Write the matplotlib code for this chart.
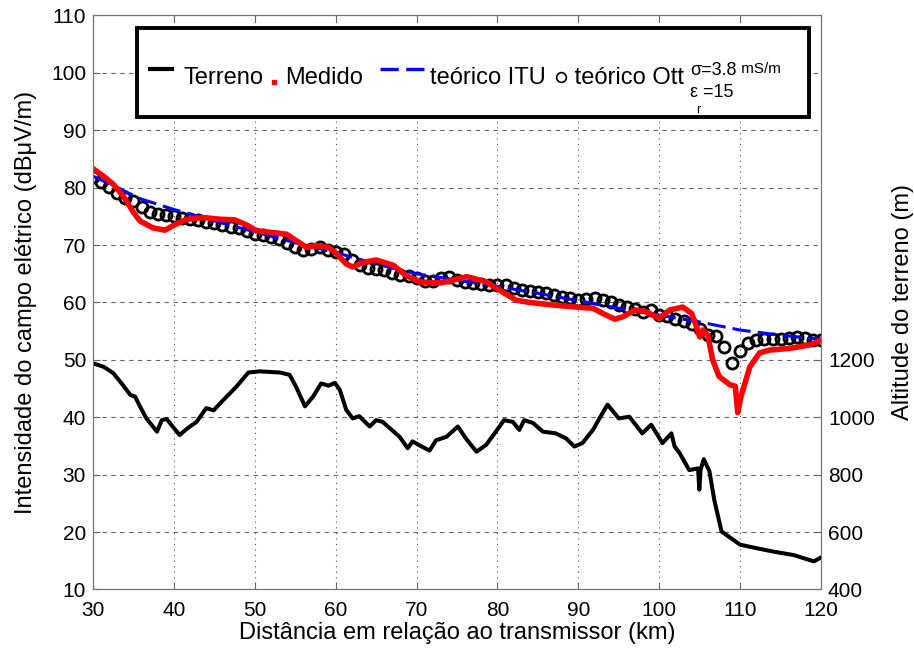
import matplotlib
matplotlib.use('Agg')
import matplotlib.pyplot as plt
from matplotlib.lines import Line2D
from matplotlib.legend_handler import HandlerBase
from matplotlib.patches import Rectangle

plt.rcParams['font.family'] = ['Liberation Sans', 'DejaVu Sans']

# ---------------- data ----------------
terrain_km = [30.0, 31.3, 32.5, 33.7, 34.6, 35.2, 35.8, 36.6, 37.9, 38.5, 39.1, 40.7, 41.6, 42.8,
              44.0, 44.9, 46.1, 47.7, 49.2, 50.6, 53.1, 54.3, 55.1, 56.2, 57.2, 58.2, 59.1, 59.9,
              60.5, 61.3, 62.1, 62.9, 64.2, 65.0, 65.8, 67.9, 68.9, 69.5, 70.5, 71.6, 72.4, 73.7,
              75.1, 76.1, 77.4, 78.6, 79.8, 80.8, 81.9, 82.7, 83.3, 84.4, 85.6, 87.2, 88.5, 89.5,
              90.5, 91.8, 92.6, 93.6, 95.0, 96.3, 97.9, 99.0, 100.4, 101.5, 101.9, 102.5, 103.7,
              104.8, 104.95, 105.1, 105.5, 106.2, 106.8, 107.7, 108.3, 110.0, 112.0, 114.1, 116.6,
              119.1, 119.9]
terrain_m = [1188, 1176, 1154, 1112, 1078, 1072, 1038, 996, 950, 990, 994, 938, 960, 984,
             1032, 1024, 1060, 1106, 1156, 1160, 1156, 1148, 1106, 1038, 1072, 1118, 1110, 1120,
             1096, 1026, 996, 1004, 968, 990, 984, 932, 892, 916, 900, 884, 920, 932,
             968, 926, 880, 904, 950, 990, 984, 956, 990, 980, 950, 944, 926, 898,
             910, 956, 996, 1044, 996, 1002, 944, 974, 910, 944, 898, 876, 816,
             822, 748, 816, 854, 812, 712, 602, 590, 556, 544, 532, 520,
             498, 510]

meas_km = [30.0, 31.3, 32.5, 33.7, 35.0, 35.8, 37.4, 38.9, 39.9, 41.6, 43.6, 45.7, 47.5, 49.0,
           50.2, 52.1, 53.9, 55.1, 56.4, 57.6, 59.1, 60.1, 61.3, 62.1, 63.4, 65.0, 67.1, 68.7,
           70.4, 72.0, 73.7, 76.2, 78.6, 80.3, 82.3, 84.0, 87.3, 89.8, 91.8, 93.0, 94.5, 95.5,
           97.0, 98.4, 100.0, 101.3, 102.9, 104.0, 104.6, 105.0, 105.4, 106.0, 106.6, 107.4,
           108.7, 109.4, 109.7, 110.1, 111.2, 112.4, 113.6, 116.1, 118.6, 120.0]
meas_db = [83.3, 82.0, 80.6, 78.6, 75.7, 74.2, 73.0, 72.6, 73.4, 74.5, 74.8, 74.5, 74.4, 73.5,
           72.5, 72.2, 71.9, 70.8, 69.6, 69.9, 69.6, 68.5, 66.7, 66.2, 67.0, 67.4, 66.5, 64.7,
           63.6, 63.4, 63.6, 64.5, 63.6, 62.1, 60.4, 60.0, 59.5, 59.2, 59.0, 58.1, 57.1, 57.5,
           58.7, 58.4, 57.2, 58.7, 59.2, 58.1, 55.8, 54.0, 55.2, 54.3, 50.0, 47.1,
           45.7, 45.4, 40.8, 43.6, 48.8, 51.2, 51.7, 52.0, 52.6, 53.4]

ott_km = list(range(30, 121))
ott_db = [81.8, 81.0, 80.2, 79.1, 78.2, 77.6, 76.6, 75.8, 75.5, 75.3,
          75.0, 74.7, 74.5, 74.3, 74.1, 73.8, 73.5, 73.2, 73.0, 72.4,
          71.9, 71.7, 71.4, 71.1, 70.4, 69.6, 69.2, 69.3, 69.6, 69.1,
          68.8, 68.4, 67.4, 66.6, 66.0, 65.9, 65.6, 65.1, 64.8, 64.7,
          64.2, 63.7, 63.8, 64.2, 64.4, 64.0, 63.6, 63.4, 63.2, 63.0,
          63.0, 63.0, 62.5, 62.2, 62.0, 61.8, 61.6, 61.3, 61.0, 60.7,
          60.4, 60.6, 60.7, 60.5, 60.0, 59.5, 59.2, 58.8, 58.4, 58.7,
          57.9, 57.6, 57.2, 56.7, 56.3, 55.4, 54.3, 54.2, 52.2, 49.5,
          51.6, 53.0, 53.5, 53.6, 53.6, 53.6, 53.8, 54.0, 53.8, 53.5,
          53.4]

itu_km = [30, 33, 36, 40, 45, 50, 55, 60, 65, 70, 75, 80, 85, 90, 95, 100, 105, 110, 115, 120]
itu_db = [82.0, 80.0, 78.0, 76.2, 74.2, 72.3, 70.4, 68.7, 66.7, 65.0, 63.9, 62.8, 61.6, 60.3,
          59.0, 57.8, 56.6, 55.2, 54.3, 53.6]

x_ticks = [30, 40, 50, 60, 70, 80, 90, 100, 110, 120]
left_ticks = [10, 20, 30, 40, 50, 60, 70, 80, 90, 100, 110]
right_ticks = [400, 600, 800, 1000, 1200]

legend_labels = ['Terreno', 'Medido', 'teórico ITU', '\u00a0teórico Ott']


# ---------------- legend key handler ----------------
class KeyHandler(HandlerBase):
    """Draws the key at an offset (points) from the right edge of the handle box."""
    def __init__(self, x0, x1=None, dy=0.0):
        super().__init__()
        self.x0, self.x1, self.dy = x0, x1, dy

    def create_artists(self, legend, orig_handle, xdescent, ydescent,
                       width, height, fontsize, trans):
        xr = width - xdescent
        y = height / 2 - ydescent + self.dy
        if self.x1 is None:
            xs, ys = [xr + self.x0], [y]
        else:
            xs, ys = [xr + self.x0, xr + self.x1], [y, y]
        art = Line2D(xs, ys)
        self.update_prop(art, orig_handle, legend)
        art.set_transform(trans)
        return [art]


# ---------------- figure ----------------
fig = plt.figure(figsize=(9.14, 6.56), dpi=100)
ax = fig.add_axes([0.1018, 0.1014, 0.7965, 0.875])

ax.plot(ott_km, ott_db, ls='none', marker='o', ms=8, mfc='none', mec='k', mew=2.0, zorder=2)
ax.plot(itu_km, itu_db, color='#0000ff', ls=(0, (6, 2.3)), lw=2.2, zorder=3)
ax.plot(meas_km, meas_db, color='#ff0000', lw=4.0, zorder=4, solid_capstyle='round',
        solid_joinstyle='round')

ax.set_xlim(30, 120)
ax.set_ylim(10, 110)
ax.set_xticks(x_ticks)
ax.set_yticks(left_ticks)
ax.grid(axis='x', ls=(0, (1, 4)), color='#555555', lw=0.8)
ax.grid(axis='y', ls=(0, (4, 4)), color='#666666', lw=0.8)
ax.tick_params(direction='in', length=5, top=True, right=True, labelsize=15,
               color='#666666', labelcolor='black')
ax.tick_params(axis='x', pad=8)
ax.tick_params(axis='y', pad=5)
for s in ax.spines.values():
    s.set_color('#777777')

ax.set_xlabel('Distância em relação ao transmissor (km)', fontsize=17, labelpad=2)
ax.set_ylabel('Intensidade do campo elétrico (dBμV/m)', fontsize=17, labelpad=10)

ax2 = ax.twinx()
ax2.plot(terrain_km, terrain_m, color='k', lw=2.9, solid_joinstyle='round')
ax2.set_ylim(400, 2400)
ax2.set_yticks(right_ticks)
ax2.tick_params(direction='in', length=5, labelsize=15, pad=5,
                color='#666666', labelcolor='black')
for s in ax2.spines.values():
    s.set_color('#777777')
ax2.set_ylabel('Altitude do terreno (m)', fontsize=17, labelpad=12)

# legend frame
ax2.add_patch(Rectangle((0.0604, 0.823), 0.923, 0.155, transform=ax2.transAxes,
                        facecolor='white', edgecolor='black', lw=2.8, zorder=5,
                        clip_on=False))

h_ter = Line2D([], [], color='k', lw=3)
h_med = Line2D([], [], color='#ff0000', ls='none', marker='s', ms=3.2)
h_d1 = Line2D([], [], ls='none')
h_d2 = Line2D([], [], ls='none')
h_itu = Line2D([], [], color='#0000ff', lw=2.4, ls=(0, (5.5, 2.2)))
h_ott = Line2D([], [], color='k', ls='none', marker='o', ms=7, mfc='none', mew=1.2)

handles = [h_ter, h_med, h_d1, h_d2, h_itu, h_ott]
labels = [legend_labels[0], legend_labels[1], '', '', legend_labels[2], legend_labels[3]]
hmap = {h_ter: KeyHandler(-18.6, -2.8, 5.0),
        h_med: KeyHandler(-2.8, None, -4.3),
        h_itu: KeyHandler(-31.0, 1.0, 5.0),
        h_ott: KeyHandler(0.0, None, -1.0)}
leg = ax2.legend(handles, labels, handler_map=hmap, ncol=6, fontsize=17,
                 loc='center left', bbox_to_anchor=(0.0977, 0.891),
                 bbox_transform=ax2.transAxes, frameon=False, borderpad=0,
                 borderaxespad=0, handlelength=0.5, handletextpad=0.3,
                 columnspacing=0.144)
leg.set_zorder(6)

t1 = ax2.text(0.820, 0.905, 'σ=3.8', transform=ax2.transAxes, fontsize=13,
              ha='left', va='center', zorder=7)
ax2.annotate(' mS/m', xy=(1.0, 0.12), xycoords=t1, fontsize=11, ha='left',
             va='bottom', zorder=7)
ax2.text(0.8205, 0.865, 'ε =15', transform=ax2.transAxes, fontsize=13,
         ha='left', va='center', zorder=7)
ax2.text(0.828, 0.836, 'r', transform=ax2.transAxes, fontsize=9,
         ha='left', va='center', zorder=7)

fig.savefig('out.png', dpi=100)
